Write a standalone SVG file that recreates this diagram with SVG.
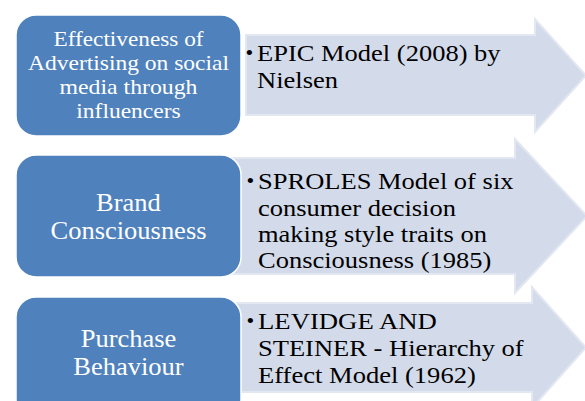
<svg xmlns="http://www.w3.org/2000/svg" width="585" height="401" viewBox="0 0 585 401">
  <style>
    .box { fill: #4f81bd; stroke: #ffffff; stroke-width: 1.5; }
    .arrow { fill: #d3dbea; stroke: #e2e7f1; stroke-width: 2; stroke-linejoin: miter; }
    .boxtext { font-family: "Liberation Serif", "Times New Roman", serif; fill: #ffffff; text-anchor: middle; }
    .small { font-size: 21.5px; }
    .large { font-size: 25px; }
    .arrowtext { font-family: "Liberation Serif", "Times New Roman", serif; fill: #000000; font-size: 23.8px; }
    .bullet { font-family: "Liberation Serif", "Times New Roman", serif; fill: #000000; font-size: 22px; }
  </style>
  <rect width="585" height="401" fill="#ffffff"/>

  <!-- right-pointing block arrows carrying the model notes -->
  <g id="connectors">
    <path class="arrow" d="M246 35 H535 V19 L586 75.5 L535 132 V115 H246 Z"/>
    <path class="arrow" d="M232 158 H515 V139 L587 216 L515 293 V274 H232 Z"/>
    <path class="arrow" d="M232 303 H532 V287 L586 347.5 L532 408 V392 H232 Z"/>
  </g>

  <g id="node-effectiveness">
    <rect class="box" x="16" y="15" width="225" height="121" rx="20" ry="20"/>
    <text class="boxtext small" x="128.5" y="46" textLength="150" lengthAdjust="spacingAndGlyphs">Effectiveness of</text>
    <text class="boxtext small" x="128.5" y="70" textLength="201" lengthAdjust="spacingAndGlyphs">Advertising on social</text>
    <text class="boxtext small" x="128.5" y="94" textLength="138" lengthAdjust="spacingAndGlyphs">media through</text>
    <text class="boxtext small" x="128.5" y="118" textLength="104.4" lengthAdjust="spacingAndGlyphs">influencers</text>
  </g>

  <g id="node-brand">
    <rect class="box" x="16" y="155" width="225" height="122" rx="20" ry="20"/>
    <text class="boxtext large" x="128.5" y="211" textLength="64.8" lengthAdjust="spacingAndGlyphs">Brand</text>
    <text class="boxtext large" x="128.5" y="239" textLength="156" lengthAdjust="spacingAndGlyphs">Consciousness</text>
  </g>

  <g id="node-purchase">
    <rect class="box" x="16" y="297" width="225" height="122" rx="20" ry="20"/>
    <text class="boxtext large" x="128.5" y="347" textLength="95.7" lengthAdjust="spacingAndGlyphs">Purchase</text>
    <text class="boxtext large" x="128.5" y="375" textLength="110.4" lengthAdjust="spacingAndGlyphs">Behaviour</text>
  </g>

  <g id="note-epic">
    <text class="bullet" x="245.5" y="60">•</text>
    <text class="arrowtext" x="257" y="61" textLength="243.6" lengthAdjust="spacingAndGlyphs">EPIC Model (2008) by</text>
    <text class="arrowtext" x="257" y="88" textLength="81" lengthAdjust="spacingAndGlyphs">Nielsen</text>
  </g>

  <g id="note-sproles">
    <text class="bullet" x="246.5" y="188">•</text>
    <text class="arrowtext" x="258" y="189" textLength="255.5" lengthAdjust="spacingAndGlyphs">SPROLES Model of six</text>
    <text class="arrowtext" x="258" y="215.5" textLength="198" lengthAdjust="spacingAndGlyphs">consumer decision</text>
    <text class="arrowtext" x="258" y="242" textLength="228.9" lengthAdjust="spacingAndGlyphs">making style traits on</text>
    <text class="arrowtext" x="258" y="268" textLength="233.3" lengthAdjust="spacingAndGlyphs">Consciousness (1985)</text>
  </g>

  <g id="note-levidge">
    <text class="bullet" x="246.5" y="328">•</text>
    <text class="arrowtext" x="258" y="329" textLength="178.8" lengthAdjust="spacingAndGlyphs">LEVIDGE AND</text>
    <text class="arrowtext" x="258" y="356" textLength="265.7" lengthAdjust="spacingAndGlyphs">STEINER - Hierarchy of</text>
    <text class="arrowtext" x="258" y="383" textLength="217.8" lengthAdjust="spacingAndGlyphs">Effect Model (1962)</text>
  </g>
</svg>
